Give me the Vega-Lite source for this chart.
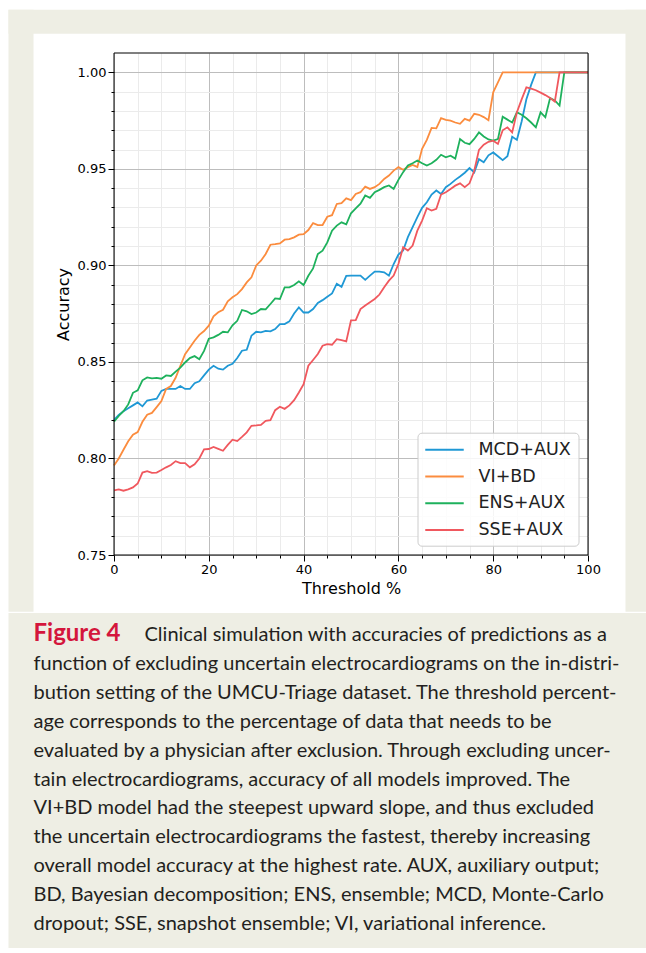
{
  "$schema": "https://vega.github.io/schema/vega-lite/v6.json",
  "background": "white",
  "padding": {"left": 8, "top": 9, "right": 0, "bottom": 7},
  "config": {
    "view": {"stroke": null},
    "axis": {"labelFont": "DejaVu Sans", "titleFont": "DejaVu Sans", "labelColor": "#000000", "titleColor": "#000000", "titleFontWeight": "normal", "tickColor": "#000000"}
  },
  "spacing": 0,
  "resolve": {"legend": {"color": "independent"}},
  "datasets": {
    "acc": [
      {"model":"MCD+AUX","threshold":0,"accuracy":0.820},{"model":"MCD+AUX","threshold":1,"accuracy":0.8225},{"model":"MCD+AUX","threshold":2,"accuracy":0.8245},{"model":"MCD+AUX","threshold":3,"accuracy":0.826},{"model":"MCD+AUX","threshold":4,"accuracy":0.8275},{"model":"MCD+AUX","threshold":5,"accuracy":0.829},{"model":"MCD+AUX","threshold":6,"accuracy":0.827},{"model":"MCD+AUX","threshold":7,"accuracy":0.830},{"model":"MCD+AUX","threshold":8,"accuracy":0.8305},{"model":"MCD+AUX","threshold":9,"accuracy":0.831},
      {"model":"MCD+AUX","threshold":10,"accuracy":0.835},{"model":"MCD+AUX","threshold":11,"accuracy":0.836},{"model":"MCD+AUX","threshold":12,"accuracy":0.836},{"model":"MCD+AUX","threshold":13,"accuracy":0.836},{"model":"MCD+AUX","threshold":14,"accuracy":0.8375},{"model":"MCD+AUX","threshold":15,"accuracy":0.836},{"model":"MCD+AUX","threshold":16,"accuracy":0.836},{"model":"MCD+AUX","threshold":17,"accuracy":0.839},{"model":"MCD+AUX","threshold":18,"accuracy":0.840},{"model":"MCD+AUX","threshold":19,"accuracy":0.843},
      {"model":"MCD+AUX","threshold":20,"accuracy":0.846},{"model":"MCD+AUX","threshold":21,"accuracy":0.848},{"model":"MCD+AUX","threshold":22,"accuracy":0.8465},{"model":"MCD+AUX","threshold":23,"accuracy":0.846},{"model":"MCD+AUX","threshold":24,"accuracy":0.848},{"model":"MCD+AUX","threshold":25,"accuracy":0.849},{"model":"MCD+AUX","threshold":26,"accuracy":0.852},{"model":"MCD+AUX","threshold":27,"accuracy":0.8558},{"model":"MCD+AUX","threshold":28,"accuracy":0.8563},{"model":"MCD+AUX","threshold":29,"accuracy":0.8636},
      {"model":"MCD+AUX","threshold":30,"accuracy":0.8656},{"model":"MCD+AUX","threshold":31,"accuracy":0.8653},{"model":"MCD+AUX","threshold":32,"accuracy":0.8661},{"model":"MCD+AUX","threshold":33,"accuracy":0.8658},{"model":"MCD+AUX","threshold":34,"accuracy":0.867},{"model":"MCD+AUX","threshold":35,"accuracy":0.8696},{"model":"MCD+AUX","threshold":36,"accuracy":0.8696},{"model":"MCD+AUX","threshold":37,"accuracy":0.871},{"model":"MCD+AUX","threshold":38,"accuracy":0.8751},{"model":"MCD+AUX","threshold":39,"accuracy":0.8782},
      {"model":"MCD+AUX","threshold":40,"accuracy":0.8756},{"model":"MCD+AUX","threshold":41,"accuracy":0.8756},{"model":"MCD+AUX","threshold":42,"accuracy":0.8774},{"model":"MCD+AUX","threshold":43,"accuracy":0.8805},{"model":"MCD+AUX","threshold":44,"accuracy":0.882},{"model":"MCD+AUX","threshold":45,"accuracy":0.8838},{"model":"MCD+AUX","threshold":46,"accuracy":0.8855},{"model":"MCD+AUX","threshold":47,"accuracy":0.8905},{"model":"MCD+AUX","threshold":48,"accuracy":0.8889},{"model":"MCD+AUX","threshold":49,"accuracy":0.8946},
      {"model":"MCD+AUX","threshold":50,"accuracy":0.8947},{"model":"MCD+AUX","threshold":51,"accuracy":0.8947},{"model":"MCD+AUX","threshold":52,"accuracy":0.8947},{"model":"MCD+AUX","threshold":53,"accuracy":0.8925},{"model":"MCD+AUX","threshold":54,"accuracy":0.8947},{"model":"MCD+AUX","threshold":55,"accuracy":0.8968},{"model":"MCD+AUX","threshold":56,"accuracy":0.8968},{"model":"MCD+AUX","threshold":57,"accuracy":0.8964},{"model":"MCD+AUX","threshold":58,"accuracy":0.8947},{"model":"MCD+AUX","threshold":59,"accuracy":0.9007},
      {"model":"MCD+AUX","threshold":60,"accuracy":0.9056},{"model":"MCD+AUX","threshold":61,"accuracy":0.9077},{"model":"MCD+AUX","threshold":62,"accuracy":0.9146},{"model":"MCD+AUX","threshold":63,"accuracy":0.9198},{"model":"MCD+AUX","threshold":64,"accuracy":0.925},{"model":"MCD+AUX","threshold":65,"accuracy":0.9298},{"model":"MCD+AUX","threshold":66,"accuracy":0.9327},{"model":"MCD+AUX","threshold":67,"accuracy":0.9367},{"model":"MCD+AUX","threshold":68,"accuracy":0.9388},{"model":"MCD+AUX","threshold":69,"accuracy":0.937},
      {"model":"MCD+AUX","threshold":70,"accuracy":0.9405},{"model":"MCD+AUX","threshold":71,"accuracy":0.9422},{"model":"MCD+AUX","threshold":72,"accuracy":0.9443},{"model":"MCD+AUX","threshold":73,"accuracy":0.946},{"model":"MCD+AUX","threshold":74,"accuracy":0.948},{"model":"MCD+AUX","threshold":75,"accuracy":0.9504},{"model":"MCD+AUX","threshold":76,"accuracy":0.9482},{"model":"MCD+AUX","threshold":77,"accuracy":0.955},{"model":"MCD+AUX","threshold":78,"accuracy":0.9534},{"model":"MCD+AUX","threshold":79,"accuracy":0.957},
      {"model":"MCD+AUX","threshold":80,"accuracy":0.9585},{"model":"MCD+AUX","threshold":81,"accuracy":0.9565},{"model":"MCD+AUX","threshold":82,"accuracy":0.9545},{"model":"MCD+AUX","threshold":83,"accuracy":0.9565},{"model":"MCD+AUX","threshold":84,"accuracy":0.9666},{"model":"MCD+AUX","threshold":85,"accuracy":0.965},{"model":"MCD+AUX","threshold":86,"accuracy":0.9745},{"model":"MCD+AUX","threshold":87,"accuracy":0.986},{"model":"MCD+AUX","threshold":88,"accuracy":0.9935},{"model":"MCD+AUX","threshold":89,"accuracy":1.0},
      {"model":"MCD+AUX","threshold":95,"accuracy":1.0},{"model":"MCD+AUX","threshold":100,"accuracy":1.0},

      {"model":"VI+BD","threshold":0,"accuracy":0.7964},{"model":"VI+BD","threshold":1,"accuracy":0.800},{"model":"VI+BD","threshold":2,"accuracy":0.8045},{"model":"VI+BD","threshold":3,"accuracy":0.8089},{"model":"VI+BD","threshold":4,"accuracy":0.8123},{"model":"VI+BD","threshold":5,"accuracy":0.8137},{"model":"VI+BD","threshold":6,"accuracy":0.819},{"model":"VI+BD","threshold":7,"accuracy":0.8227},{"model":"VI+BD","threshold":8,"accuracy":0.8236},{"model":"VI+BD","threshold":9,"accuracy":0.8266},
      {"model":"VI+BD","threshold":10,"accuracy":0.8297},{"model":"VI+BD","threshold":11,"accuracy":0.836},{"model":"VI+BD","threshold":12,"accuracy":0.8375},{"model":"VI+BD","threshold":13,"accuracy":0.8418},{"model":"VI+BD","threshold":14,"accuracy":0.848},{"model":"VI+BD","threshold":15,"accuracy":0.854},{"model":"VI+BD","threshold":16,"accuracy":0.8575},{"model":"VI+BD","threshold":17,"accuracy":0.861},{"model":"VI+BD","threshold":18,"accuracy":0.864},{"model":"VI+BD","threshold":19,"accuracy":0.866},
      {"model":"VI+BD","threshold":20,"accuracy":0.8688},{"model":"VI+BD","threshold":21,"accuracy":0.8736},{"model":"VI+BD","threshold":22,"accuracy":0.8757},{"model":"VI+BD","threshold":23,"accuracy":0.877},{"model":"VI+BD","threshold":24,"accuracy":0.8814},{"model":"VI+BD","threshold":25,"accuracy":0.8835},{"model":"VI+BD","threshold":26,"accuracy":0.8851},{"model":"VI+BD","threshold":27,"accuracy":0.8877},{"model":"VI+BD","threshold":28,"accuracy":0.8912},{"model":"VI+BD","threshold":29,"accuracy":0.8938},
      {"model":"VI+BD","threshold":30,"accuracy":0.900},{"model":"VI+BD","threshold":31,"accuracy":0.9024},{"model":"VI+BD","threshold":32,"accuracy":0.9059},{"model":"VI+BD","threshold":33,"accuracy":0.9107},{"model":"VI+BD","threshold":34,"accuracy":0.911},{"model":"VI+BD","threshold":35,"accuracy":0.9114},{"model":"VI+BD","threshold":36,"accuracy":0.9133},{"model":"VI+BD","threshold":37,"accuracy":0.9136},{"model":"VI+BD","threshold":38,"accuracy":0.9145},{"model":"VI+BD","threshold":39,"accuracy":0.9159},
      {"model":"VI+BD","threshold":40,"accuracy":0.9162},{"model":"VI+BD","threshold":41,"accuracy":0.9183},{"model":"VI+BD","threshold":42,"accuracy":0.9219},{"model":"VI+BD","threshold":43,"accuracy":0.9209},{"model":"VI+BD","threshold":44,"accuracy":0.9209},{"model":"VI+BD","threshold":45,"accuracy":0.9252},{"model":"VI+BD","threshold":46,"accuracy":0.926},{"model":"VI+BD","threshold":47,"accuracy":0.9318},{"model":"VI+BD","threshold":48,"accuracy":0.9322},{"model":"VI+BD","threshold":49,"accuracy":0.9347},
      {"model":"VI+BD","threshold":50,"accuracy":0.9338},{"model":"VI+BD","threshold":51,"accuracy":0.937},{"model":"VI+BD","threshold":52,"accuracy":0.9379},{"model":"VI+BD","threshold":53,"accuracy":0.9408},{"model":"VI+BD","threshold":54,"accuracy":0.9396},{"model":"VI+BD","threshold":55,"accuracy":0.9405},{"model":"VI+BD","threshold":56,"accuracy":0.9422},{"model":"VI+BD","threshold":57,"accuracy":0.9448},{"model":"VI+BD","threshold":58,"accuracy":0.9465},{"model":"VI+BD","threshold":59,"accuracy":0.9491},
      {"model":"VI+BD","threshold":60,"accuracy":0.9509},{"model":"VI+BD","threshold":61,"accuracy":0.9495},{"model":"VI+BD","threshold":62,"accuracy":0.9509},{"model":"VI+BD","threshold":63,"accuracy":0.952},{"model":"VI+BD","threshold":64,"accuracy":0.951},{"model":"VI+BD","threshold":65,"accuracy":0.9604},{"model":"VI+BD","threshold":66,"accuracy":0.965},{"model":"VI+BD","threshold":67,"accuracy":0.9712},{"model":"VI+BD","threshold":68,"accuracy":0.971},{"model":"VI+BD","threshold":69,"accuracy":0.9763},
      {"model":"VI+BD","threshold":70,"accuracy":0.9754},{"model":"VI+BD","threshold":71,"accuracy":0.975},{"model":"VI+BD","threshold":72,"accuracy":0.974},{"model":"VI+BD","threshold":73,"accuracy":0.9733},{"model":"VI+BD","threshold":74,"accuracy":0.9759},{"model":"VI+BD","threshold":75,"accuracy":0.975},{"model":"VI+BD","threshold":76,"accuracy":0.9785},{"model":"VI+BD","threshold":77,"accuracy":0.978},{"model":"VI+BD","threshold":78,"accuracy":0.9768},{"model":"VI+BD","threshold":79,"accuracy":0.9752},
      {"model":"VI+BD","threshold":80,"accuracy":0.9896},{"model":"VI+BD","threshold":81,"accuracy":0.9948},{"model":"VI+BD","threshold":82,"accuracy":1.0},{"model":"VI+BD","threshold":90,"accuracy":1.0},{"model":"VI+BD","threshold":100,"accuracy":1.0},

      {"model":"ENS+AUX","threshold":0,"accuracy":0.819},{"model":"ENS+AUX","threshold":1,"accuracy":0.822},{"model":"ENS+AUX","threshold":2,"accuracy":0.8245},{"model":"ENS+AUX","threshold":3,"accuracy":0.828},{"model":"ENS+AUX","threshold":4,"accuracy":0.834},{"model":"ENS+AUX","threshold":5,"accuracy":0.8353},{"model":"ENS+AUX","threshold":6,"accuracy":0.8405},{"model":"ENS+AUX","threshold":7,"accuracy":0.842},{"model":"ENS+AUX","threshold":8,"accuracy":0.8415},{"model":"ENS+AUX","threshold":9,"accuracy":0.8417},
      {"model":"ENS+AUX","threshold":10,"accuracy":0.8413},{"model":"ENS+AUX","threshold":11,"accuracy":0.843},{"model":"ENS+AUX","threshold":12,"accuracy":0.8427},{"model":"ENS+AUX","threshold":13,"accuracy":0.845},{"model":"ENS+AUX","threshold":14,"accuracy":0.847},{"model":"ENS+AUX","threshold":15,"accuracy":0.8497},{"model":"ENS+AUX","threshold":16,"accuracy":0.852},{"model":"ENS+AUX","threshold":17,"accuracy":0.853},{"model":"ENS+AUX","threshold":18,"accuracy":0.8514},{"model":"ENS+AUX","threshold":19,"accuracy":0.8557},
      {"model":"ENS+AUX","threshold":20,"accuracy":0.862},{"model":"ENS+AUX","threshold":21,"accuracy":0.8627},{"model":"ENS+AUX","threshold":22,"accuracy":0.864},{"model":"ENS+AUX","threshold":23,"accuracy":0.8656},{"model":"ENS+AUX","threshold":24,"accuracy":0.8653},{"model":"ENS+AUX","threshold":25,"accuracy":0.869},{"model":"ENS+AUX","threshold":26,"accuracy":0.8713},{"model":"ENS+AUX","threshold":27,"accuracy":0.8769},{"model":"ENS+AUX","threshold":28,"accuracy":0.8762},{"model":"ENS+AUX","threshold":29,"accuracy":0.8748},
      {"model":"ENS+AUX","threshold":30,"accuracy":0.8756},{"model":"ENS+AUX","threshold":31,"accuracy":0.8774},{"model":"ENS+AUX","threshold":32,"accuracy":0.8772},{"model":"ENS+AUX","threshold":33,"accuracy":0.880},{"model":"ENS+AUX","threshold":34,"accuracy":0.8829},{"model":"ENS+AUX","threshold":35,"accuracy":0.8826},{"model":"ENS+AUX","threshold":36,"accuracy":0.8886},{"model":"ENS+AUX","threshold":37,"accuracy":0.8886},{"model":"ENS+AUX","threshold":38,"accuracy":0.8898},{"model":"ENS+AUX","threshold":39,"accuracy":0.8917},
      {"model":"ENS+AUX","threshold":40,"accuracy":0.8898},{"model":"ENS+AUX","threshold":41,"accuracy":0.8946},{"model":"ENS+AUX","threshold":42,"accuracy":0.8984},{"model":"ENS+AUX","threshold":43,"accuracy":0.9059},{"model":"ENS+AUX","threshold":44,"accuracy":0.9076},{"model":"ENS+AUX","threshold":45,"accuracy":0.9119},{"model":"ENS+AUX","threshold":46,"accuracy":0.918},{"model":"ENS+AUX","threshold":47,"accuracy":0.9206},{"model":"ENS+AUX","threshold":48,"accuracy":0.9223},{"model":"ENS+AUX","threshold":49,"accuracy":0.9213},
      {"model":"ENS+AUX","threshold":50,"accuracy":0.927},{"model":"ENS+AUX","threshold":51,"accuracy":0.9295},{"model":"ENS+AUX","threshold":52,"accuracy":0.932},{"model":"ENS+AUX","threshold":53,"accuracy":0.9362},{"model":"ENS+AUX","threshold":54,"accuracy":0.935},{"model":"ENS+AUX","threshold":55,"accuracy":0.9379},{"model":"ENS+AUX","threshold":56,"accuracy":0.9391},{"model":"ENS+AUX","threshold":57,"accuracy":0.9405},{"model":"ENS+AUX","threshold":58,"accuracy":0.9414},{"model":"ENS+AUX","threshold":59,"accuracy":0.9396},
      {"model":"ENS+AUX","threshold":60,"accuracy":0.9443},{"model":"ENS+AUX","threshold":61,"accuracy":0.9483},{"model":"ENS+AUX","threshold":62,"accuracy":0.9517},{"model":"ENS+AUX","threshold":63,"accuracy":0.9529},{"model":"ENS+AUX","threshold":64,"accuracy":0.9543},{"model":"ENS+AUX","threshold":65,"accuracy":0.9529},{"model":"ENS+AUX","threshold":66,"accuracy":0.9517},{"model":"ENS+AUX","threshold":67,"accuracy":0.9529},{"model":"ENS+AUX","threshold":68,"accuracy":0.9547},{"model":"ENS+AUX","threshold":69,"accuracy":0.9573},
      {"model":"ENS+AUX","threshold":70,"accuracy":0.956},{"model":"ENS+AUX","threshold":71,"accuracy":0.9568},{"model":"ENS+AUX","threshold":72,"accuracy":0.9553},{"model":"ENS+AUX","threshold":73,"accuracy":0.9654},{"model":"ENS+AUX","threshold":74,"accuracy":0.9635},{"model":"ENS+AUX","threshold":75,"accuracy":0.9628},{"model":"ENS+AUX","threshold":76,"accuracy":0.9655},{"model":"ENS+AUX","threshold":77,"accuracy":0.9689},{"model":"ENS+AUX","threshold":78,"accuracy":0.9668},{"model":"ENS+AUX","threshold":79,"accuracy":0.9652},
      {"model":"ENS+AUX","threshold":80,"accuracy":0.9646},{"model":"ENS+AUX","threshold":81,"accuracy":0.9654},{"model":"ENS+AUX","threshold":82,"accuracy":0.977},{"model":"ENS+AUX","threshold":83,"accuracy":0.9755},{"model":"ENS+AUX","threshold":84,"accuracy":0.974},{"model":"ENS+AUX","threshold":85,"accuracy":0.9793},{"model":"ENS+AUX","threshold":86,"accuracy":0.978},{"model":"ENS+AUX","threshold":87,"accuracy":0.9762},{"model":"ENS+AUX","threshold":88,"accuracy":0.974},{"model":"ENS+AUX","threshold":89,"accuracy":0.9715},
      {"model":"ENS+AUX","threshold":90,"accuracy":0.9793},{"model":"ENS+AUX","threshold":91,"accuracy":0.9767},{"model":"ENS+AUX","threshold":92,"accuracy":0.9867},{"model":"ENS+AUX","threshold":93,"accuracy":0.9854},{"model":"ENS+AUX","threshold":94,"accuracy":0.9828},{"model":"ENS+AUX","threshold":95,"accuracy":1.0},{"model":"ENS+AUX","threshold":100,"accuracy":1.0},

      {"model":"SSE+AUX","threshold":0,"accuracy":0.7835},{"model":"SSE+AUX","threshold":1,"accuracy":0.784},{"model":"SSE+AUX","threshold":2,"accuracy":0.7833},{"model":"SSE+AUX","threshold":3,"accuracy":0.784},{"model":"SSE+AUX","threshold":4,"accuracy":0.785},{"model":"SSE+AUX","threshold":5,"accuracy":0.787},{"model":"SSE+AUX","threshold":6,"accuracy":0.7927},{"model":"SSE+AUX","threshold":7,"accuracy":0.7934},{"model":"SSE+AUX","threshold":8,"accuracy":0.7925},{"model":"SSE+AUX","threshold":9,"accuracy":0.7927},
      {"model":"SSE+AUX","threshold":10,"accuracy":0.794},{"model":"SSE+AUX","threshold":11,"accuracy":0.7954},{"model":"SSE+AUX","threshold":12,"accuracy":0.7966},{"model":"SSE+AUX","threshold":13,"accuracy":0.7986},{"model":"SSE+AUX","threshold":14,"accuracy":0.7976},{"model":"SSE+AUX","threshold":15,"accuracy":0.7976},{"model":"SSE+AUX","threshold":16,"accuracy":0.7954},{"model":"SSE+AUX","threshold":17,"accuracy":0.797},{"model":"SSE+AUX","threshold":18,"accuracy":0.800},{"model":"SSE+AUX","threshold":19,"accuracy":0.8047},
      {"model":"SSE+AUX","threshold":20,"accuracy":0.8049},{"model":"SSE+AUX","threshold":21,"accuracy":0.806},{"model":"SSE+AUX","threshold":22,"accuracy":0.805},{"model":"SSE+AUX","threshold":23,"accuracy":0.804},{"model":"SSE+AUX","threshold":24,"accuracy":0.807},{"model":"SSE+AUX","threshold":25,"accuracy":0.8097},{"model":"SSE+AUX","threshold":26,"accuracy":0.809},{"model":"SSE+AUX","threshold":27,"accuracy":0.8112},{"model":"SSE+AUX","threshold":28,"accuracy":0.8135},{"model":"SSE+AUX","threshold":29,"accuracy":0.8169},
      {"model":"SSE+AUX","threshold":30,"accuracy":0.8171},{"model":"SSE+AUX","threshold":31,"accuracy":0.8174},{"model":"SSE+AUX","threshold":32,"accuracy":0.8195},{"model":"SSE+AUX","threshold":33,"accuracy":0.8198},{"model":"SSE+AUX","threshold":34,"accuracy":0.825},{"model":"SSE+AUX","threshold":35,"accuracy":0.8268},{"model":"SSE+AUX","threshold":36,"accuracy":0.8257},{"model":"SSE+AUX","threshold":37,"accuracy":0.8275},{"model":"SSE+AUX","threshold":38,"accuracy":0.8302},{"model":"SSE+AUX","threshold":39,"accuracy":0.8342},
      {"model":"SSE+AUX","threshold":40,"accuracy":0.8385},{"model":"SSE+AUX","threshold":41,"accuracy":0.848},{"model":"SSE+AUX","threshold":42,"accuracy":0.851},{"model":"SSE+AUX","threshold":43,"accuracy":0.8541},{"model":"SSE+AUX","threshold":44,"accuracy":0.8584},{"model":"SSE+AUX","threshold":45,"accuracy":0.8592},{"model":"SSE+AUX","threshold":46,"accuracy":0.8589},{"model":"SSE+AUX","threshold":47,"accuracy":0.8618},{"model":"SSE+AUX","threshold":48,"accuracy":0.8613},{"model":"SSE+AUX","threshold":49,"accuracy":0.8606},
      {"model":"SSE+AUX","threshold":50,"accuracy":0.8715},{"model":"SSE+AUX","threshold":51,"accuracy":0.8717},{"model":"SSE+AUX","threshold":52,"accuracy":0.8774},{"model":"SSE+AUX","threshold":53,"accuracy":0.8792},{"model":"SSE+AUX","threshold":54,"accuracy":0.8809},{"model":"SSE+AUX","threshold":55,"accuracy":0.8826},{"model":"SSE+AUX","threshold":56,"accuracy":0.8849},{"model":"SSE+AUX","threshold":57,"accuracy":0.8887},{"model":"SSE+AUX","threshold":58,"accuracy":0.8921},{"model":"SSE+AUX","threshold":59,"accuracy":0.8947},
      {"model":"SSE+AUX","threshold":60,"accuracy":0.9007},{"model":"SSE+AUX","threshold":61,"accuracy":0.9094},{"model":"SSE+AUX","threshold":62,"accuracy":0.9077},{"model":"SSE+AUX","threshold":63,"accuracy":0.9103},{"model":"SSE+AUX","threshold":64,"accuracy":0.918},{"model":"SSE+AUX","threshold":65,"accuracy":0.9232},{"model":"SSE+AUX","threshold":66,"accuracy":0.9296},{"model":"SSE+AUX","threshold":67,"accuracy":0.9284},{"model":"SSE+AUX","threshold":68,"accuracy":0.9293},{"model":"SSE+AUX","threshold":69,"accuracy":0.9367},
      {"model":"SSE+AUX","threshold":70,"accuracy":0.9379},{"model":"SSE+AUX","threshold":71,"accuracy":0.9396},{"model":"SSE+AUX","threshold":72,"accuracy":0.9413},{"model":"SSE+AUX","threshold":73,"accuracy":0.9425},{"model":"SSE+AUX","threshold":74,"accuracy":0.9405},{"model":"SSE+AUX","threshold":75,"accuracy":0.9425},{"model":"SSE+AUX","threshold":76,"accuracy":0.949},{"model":"SSE+AUX","threshold":77,"accuracy":0.9598},{"model":"SSE+AUX","threshold":78,"accuracy":0.9625},{"model":"SSE+AUX","threshold":79,"accuracy":0.964},
      {"model":"SSE+AUX","threshold":80,"accuracy":0.9646},{"model":"SSE+AUX","threshold":81,"accuracy":0.9629},{"model":"SSE+AUX","threshold":82,"accuracy":0.970},{"model":"SSE+AUX","threshold":83,"accuracy":0.9715},{"model":"SSE+AUX","threshold":84,"accuracy":0.9689},{"model":"SSE+AUX","threshold":85,"accuracy":0.9793},{"model":"SSE+AUX","threshold":86,"accuracy":0.986},{"model":"SSE+AUX","threshold":87,"accuracy":0.9922},{"model":"SSE+AUX","threshold":88,"accuracy":0.9915},{"model":"SSE+AUX","threshold":89,"accuracy":0.9907},
      {"model":"SSE+AUX","threshold":90,"accuracy":0.9895},{"model":"SSE+AUX","threshold":91,"accuracy":0.9882},{"model":"SSE+AUX","threshold":92,"accuracy":0.9867},{"model":"SSE+AUX","threshold":93,"accuracy":0.9848},{"model":"SSE+AUX","threshold":94,"accuracy":1.0},{"model":"SSE+AUX","threshold":100,"accuracy":1.0}
    ],
    "caption": [
      {"line": 1, "part": "fig", "text": "Figure 4"},
      {"line": 1, "part": "first", "text": "Clinical simulation with accuracies of predictions as a"},
      {"line": 2, "part": "body", "text": "function of excluding uncertain electrocardiograms on the in-distri-"},
      {"line": 3, "part": "body", "text": "bution setting of the UMCU-Triage dataset. The threshold percent-"},
      {"line": 4, "part": "body", "text": "age corresponds to the percentage of data that needs to be"},
      {"line": 5, "part": "body", "text": "evaluated by a physician after exclusion. Through excluding uncer-"},
      {"line": 6, "part": "body", "text": "tain electrocardiograms, accuracy of all models improved. The"},
      {"line": 7, "part": "body", "text": "VI+BD model had the steepest upward slope, and thus excluded"},
      {"line": 8, "part": "body", "text": "the uncertain electrocardiograms the fastest, thereby increasing"},
      {"line": 9, "part": "body", "text": "overall model accuracy at the highest rate. AUX, auxiliary output;"},
      {"line": 10, "part": "body", "text": "BD, Bayesian decomposition; ENS, ensemble; MCD, Monte-Carlo"},
      {"line": 11, "part": "body", "text": "dropout; SSE, snapshot ensemble; VI, variational inference."}
    ]
  },
  "vconcat": [
    {
      "width": 474,
      "height": 502,
      "view": {"fill": "white", "stroke": null},
      "resolve": {"axis": {"x": "independent", "y": "independent"}},
      "layer": [
        {
          "data": {"values": [{}]},
          "mark": {"type": "rect", "fill": "#eeeee4", "strokeWidth": 0, "clip": false},
          "encoding": {
            "x": {"datum": -22.257, "type": "quantitative", "scale": {"domain": [0, 100], "nice": false, "zero": false},
              "axis": {"orient": "bottom", "zindex": 0, "values": [0,5,10,15,20,25,30,35,40,45,50,55,60,65,70,75,80,85,90,95,100], "grid": true, "gridColor": {"condition": {"test": "datum.value % 20 === 0", "value": "#bdbdbd"}, "value": "#ebebeb"}, "gridWidth": 1, "labels": false, "ticks": false, "domain": false, "title": null}},
            "x2": {"datum": 112.342},
            "y": {"datum": 1.03243, "type": "quantitative", "scale": {"domain": [0.75, 1.01], "nice": false, "zero": false},
              "axis": {"orient": "left", "zindex": 0, "values": [0.75,0.76,0.77,0.78,0.79,0.8,0.81,0.82,0.83,0.84,0.85,0.86,0.87,0.88,0.89,0.9,0.91,0.92,0.93,0.94,0.95,0.96,0.97,0.98,0.99,1.0], "grid": true, "gridColor": {"condition": {"test": "round(datum.value*100) % 5 === 0", "value": "#bdbdbd"}, "value": "#ebebeb"}, "gridWidth": 1, "labels": false, "ticks": false, "domain": false, "title": null}},
            "y2": {"datum": 1.0200}
          }
        },
        {
          "data": {"values": [{}]},
          "mark": {"type": "rect", "fill": "#eeeee4", "strokeWidth": 0, "clip": false},
          "encoding": {
            "x": {"datum": -22.257, "type": "quantitative", "axis": null},
            "x2": {"datum": -16.983},
            "y": {"datum": 1.03243, "type": "quantitative", "axis": null},
            "y2": {"datum": 0.72064}
          }
        },
        {
          "data": {"values": [{}]},
          "mark": {"type": "rect", "fill": "#eeeee4", "strokeWidth": 0, "clip": false},
          "encoding": {
            "x": {"datum": 107.911, "type": "quantitative", "axis": null},
            "x2": {"datum": 112.342},
            "y": {"datum": 1.03243, "type": "quantitative", "axis": null},
            "y2": {"datum": 0.72064}
          }
        },
        {
          "data": {"name": "acc"},
          "mark": {"type": "line", "strokeWidth": 1.8, "clip": false},
          "encoding": {
            "x": {"field": "threshold", "type": "quantitative",
              "axis": {"orient": "bottom", "zindex": 1, "grid": false, "domain": false, "values": [0,5,10,15,20,25,30,35,40,45,50,55,60,65,70,75,80,85,90,95,100],
                "labelExpr": "datum.value % 20 === 0 ? datum.label : ''",
                "tickSize": {"condition": {"test": "datum.value % 20 === 0", "value": 6}, "value": 3},
                "tickWidth": 1, "labelFontSize": 13, "labelPadding": 2, "labelFlush": false, "labelOverlap": false,
                "title": "Threshold %", "titleFontSize": 16, "titlePadding": 4}},
            "y": {"field": "accuracy", "type": "quantitative",
              "axis": {"orient": "left", "zindex": 1, "grid": false, "domain": false, "values": [0.75,0.76,0.77,0.78,0.79,0.8,0.81,0.82,0.83,0.84,0.85,0.86,0.87,0.88,0.89,0.9,0.91,0.92,0.93,0.94,0.95,0.96,0.97,0.98,0.99,1.0],
                "labelExpr": "round(datum.value*100) % 5 === 0 ? format(datum.value, '.2f') : ''",
                "tickSize": {"condition": {"test": "round(datum.value*100) % 5 === 0", "value": 6}, "value": 3},
                "tickWidth": 1, "labelFontSize": 13, "labelPadding": 2, "labelFlush": false, "labelOverlap": false,
                "title": "Accuracy", "titleFontSize": 16, "titlePadding": 6}},
            "color": {"field": "model", "type": "nominal",
              "scale": {"domain": ["MCD+AUX", "VI+BD", "ENS+AUX", "SSE+AUX"], "range": ["#1f98d5", "#fb8c3e", "#1eb15c", "#f0585e"]},
              "legend": {"title": null, "orient": "none", "legendX": 303.5, "legendY": 379.7, "padding": 7, "columnPadding": 0,
                "symbolType": "M-2.2,0H2.2", "symbolSize": 306, "symbolStrokeWidth": 2, "symbolFillColor": "transparent", "symbolOffset": 10,
                "labelFont": "DejaVu Sans", "labelFontSize": 17.5, "labelColor": "#222222", "labelOffset": 24,
                "rowPadding": 7.8, "fillColor": "rgba(255,255,255,0.85)", "strokeColor": "#cccccc", "cornerRadius": 4}}
          }
        },
        {
          "data": {"values": [{}]},
          "mark": {"type": "rect", "fill": null, "stroke": "#000000", "strokeWidth": 1, "clip": false},
          "encoding": {
            "x": {"datum": 0, "type": "quantitative", "axis": null},
            "x2": {"datum": 100},
            "y": {"datum": 0.75, "type": "quantitative", "axis": null},
            "y2": {"datum": 1.01}
          }
        }
      ]
    },
    {
      "width": 592,
      "height": 289,
      "layer": [
        {
          "data": {"values": [{}]},
          "mark": {"type": "rect", "fill": "#eeeee4", "strokeWidth": 0, "clip": false},
          "encoding": {
            "x": {"datum": -0.17821, "type": "quantitative", "axis": null, "scale": {"domain": [0, 1], "nice": false, "zero": false}},
            "x2": {"datum": 0.89949},
            "y": {"datum": 0.0311, "type": "quantitative", "axis": null, "scale": {"domain": [1, 11], "reverse": true, "nice": false, "zero": false}},
            "y2": {"datum": 11.6228}
          }
        },
        {
          "data": {"name": "caption"},
          "transform": [{"filter": "datum.part === 'fig'"}],
          "mark": {"type": "text", "align": "left", "baseline": "alphabetic", "font": "Lato", "fontSize": 24, "fontWeight": "bold", "color": "#d4163c", "dx": -80.5},
          "encoding": {"x": {"value": 0}, "y": {"field": "line", "type": "quantitative", "axis": null}, "text": {"field": "text"}}
        },
        {
          "data": {"name": "caption"},
          "transform": [{"filter": "datum.part === 'first'"}],
          "mark": {"type": "text", "align": "left", "baseline": "alphabetic", "font": "Lato", "fontSize": 20, "color": "#231f20", "dx": 30.5},
          "encoding": {"x": {"value": 0}, "y": {"field": "line", "type": "quantitative", "axis": null}, "text": {"field": "text"}}
        },
        {
          "data": {"name": "caption"},
          "transform": [{"filter": "datum.part === 'body'"}],
          "mark": {"type": "text", "align": "left", "baseline": "alphabetic", "font": "Lato", "fontSize": 20, "color": "#231f20", "dx": -80.5},
          "encoding": {"x": {"value": 0}, "y": {"field": "line", "type": "quantitative", "axis": null}, "text": {"field": "text"}}
        }
      ]
    }
  ]
}
